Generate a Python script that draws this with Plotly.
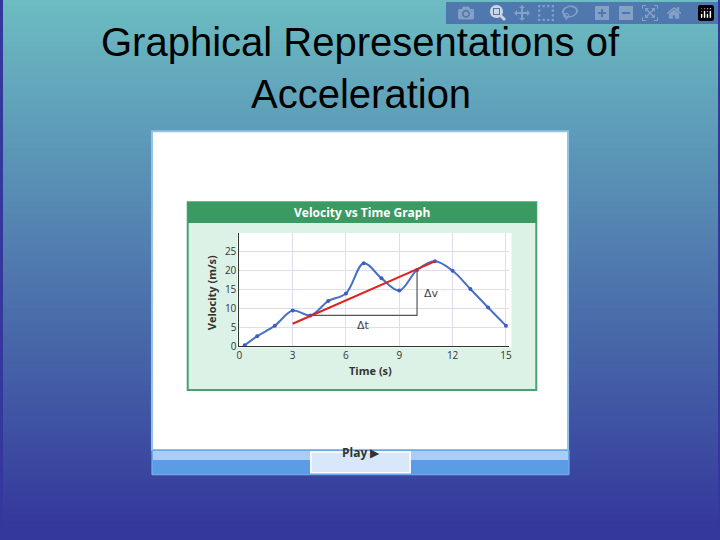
import plotly.graph_objects as go

time_s = [0.3, 1, 2, 3, 4, 5, 6, 7, 8, 9, 10, 11, 12, 13, 14, 15]
velocity = [0.3, 2.7, 5.5, 9.5, 8.2, 12, 14, 22, 18, 14.8, 20.2, 22.5, 20, 15.2, 10.3, 5.5]
tangent_t = [3, 11]
tangent_v = [6, 22.5]
dt_t = [4, 10, 10]
dt_v = [8.2, 8.2, 20.2]
x_ticks = [0, 3, 6, 9, 12, 15]
y_ticks = [0, 5, 10, 15, 20, 25]

W, H = 720, 540
def px(x): return x / W
def py(y): return 1 - y / H

shapes = []
n = 90
top = (108, 188, 194); bot = (52, 56, 156)
for i in range(n):
    f = i / (n - 1)
    c = tuple(int(top[k] + (bot[k] - top[k]) * f) for k in range(3))
    shapes.append(dict(type="rect", xref="paper", yref="paper", x0=0, x1=1,
                       y0=max(0, 1 - (i + 1) / n - 0.004), y1=1 - i / n, fillcolor="rgb(%d,%d,%d)" % c,
                       line_width=0, layer="below"))
def rect(x0, y0, x1, y1, fill, line=None, lw=0):
    shapes.append(dict(type="rect", xref="paper", yref="paper", x0=px(x0), x1=px(x1),
                       y0=py(y1), y1=py(y0), fillcolor=fill,
                       line=dict(color=line or fill, width=lw), layer="below"))
rect(150, 133, 569, 456, "white", "#8fc3e8", 2)
rect(150, 456, 570, 481, "#5c9ce6", "#7fb4ee", 1)
rect(151, 457, 569, 466, "#a9cdf6")
rect(310, 458, 410, 479, "#d8e8fa", "#ffffff", 1.5)
rect(186, 205, 537, 395, "#ddf2e6", "#4aa06e", 2)
rect(186, 205, 537, 226, "#3a9a62")
rect(236, 236, 512, 352, "white")

fig = go.Figure()
fig.add_trace(go.Scatter(x=time_s, y=velocity, mode="lines+markers", line_shape="spline",
                         line=dict(color="#4a6fc8", width=2), marker=dict(size=4, color="#3a5fc0"),
                         showlegend=False))
fig.add_trace(go.Scatter(x=tangent_t, y=tangent_v, mode="lines", line=dict(color="#e02020", width=2),
                         showlegend=False))
fig.add_trace(go.Scatter(x=dt_t, y=dt_v, mode="lines", line=dict(color="#555", width=1.2),
                         showlegend=False))

tf = dict(family="Liberation Sans", size=40, color="black")
ann = [
    dict(text="Graphical Representations of", x=0.5, y=py(43), xref="paper", yref="paper",
         yanchor="middle", showarrow=False, font=tf),
    dict(text="Acceleration", x=0.5, y=py(95), xref="paper", yref="paper",
         yanchor="middle", showarrow=False, font=tf),
    dict(text="<b>Velocity vs Time Graph</b>", x=px(362), y=py(215), xref="paper", yref="paper",
         showarrow=False, font=dict(family="Open Sans", size=12, color="white")),
    dict(text="<b>Time (s)</b>", x=px(370), y=py(385), xref="paper", yref="paper",
         showarrow=False, font=dict(family="Open Sans", size=11, color="#333")),
    dict(text="<b>Velocity (m/s)</b>", x=px(200), y=py(297), xref="paper", yref="paper", textangle=-90,
         showarrow=False, font=dict(family="Open Sans", size=11, color="#333")),
    dict(text="Δv", x=10.3, y=14, xref="x", yref="y", xanchor="left", showarrow=False,
         font=dict(family="DejaVu Sans", size=11, color="#444")),
    dict(text="Δt", x=7, y=5.5, xref="x", yref="y", showarrow=False,
         font=dict(family="DejaVu Sans", size=11, color="#444")),
    dict(text="<b>Play</b> ▶", x=px(360), y=py(469), xref="paper", yref="paper", showarrow=False,
         font=dict(family="Open Sans", size=12, color="#333")),
]

fig.update_layout(width=W, height=H, margin=dict(l=0, r=0, t=0, b=0),
                  paper_bgcolor="rgb(52,56,156)", plot_bgcolor="white", shapes=shapes, annotations=ann,
                  xaxis=dict(domain=[px(238), px(510)], range=[0, 15.2], tickvals=x_ticks,
                             showgrid=True, gridcolor="#dde", showline=True, linecolor="#333",
                             tickfont=dict(size=10, color="#333", family="Open Sans"), zeroline=False),
                  yaxis=dict(domain=[py(351), py(236)], range=[0, 30], tickvals=y_ticks,
                             showgrid=True, gridcolor="#dde", showline=True, linecolor="#333",
                             tickfont=dict(size=10, color="#333", family="Open Sans"), zeroline=False))
fig.write_html("out.html", post_script="document.body.style.margin='0';document.body.style.overflow='hidden';")
